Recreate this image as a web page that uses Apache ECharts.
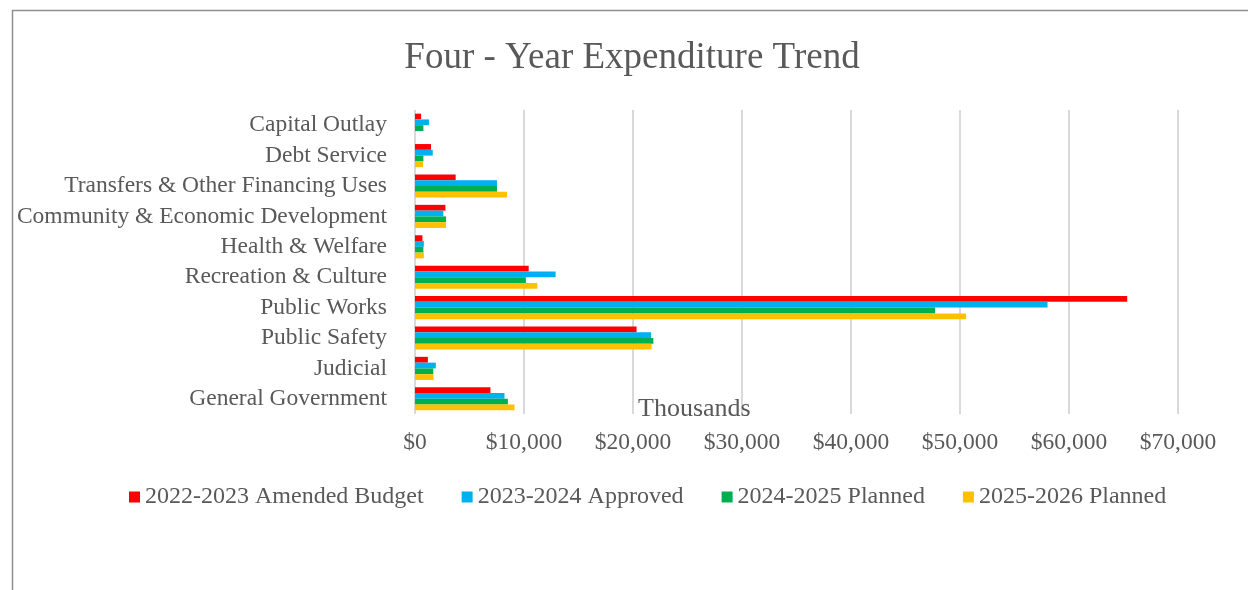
<!DOCTYPE html>
<html>
<head>
<meta charset="utf-8">
<title>Four - Year Expenditure Trend</title>
<script src="https://cdn.jsdelivr.net/npm/echarts@6/dist/echarts.min.js"></script>
<style>
  html, body { margin: 0; padding: 0; background: #ffffff; }
  #chart { width: 1248px; height: 590px; }
</style>
</head>
<body>
<div id="chart"></div>
<script>
// Departments, listed bottom to top along the category axis
const categories = [
  'General Government',
  'Judicial',
  'Public Safety',
  'Public Works',
  'Recreation & Culture',
  'Health & Welfare',
  'Community & Economic Development',
  'Transfers & Other Financing Uses',
  'Debt Service',
  'Capital Outlay'
];

// Expenditures in thousands of dollars, same order as categories
const amended2022 = [6920, 1180, 20330, 65340, 10430, 680, 2790, 3730, 1470, 560];
const approved2023 = [8210, 1910, 21660, 58030, 12900, 810, 2600, 7520, 1630, 1290];
const planned2024 = [8520, 1680, 21870, 47720, 10170, 770, 2850, 7520, 770, 770];
const planned2025 = [9130, 1700, 21710, 50560, 11220, 810, 2850, 8440, 740, 0];

const seriesNames = [
  '2022-2023 Amended Budget',
  '2023-2024 Approved',
  '2024-2025 Planned',
  '2025-2026 Planned'
];
const seriesValues = [amended2022, approved2023, planned2024, planned2025];
const seriesColors = ['#FF0000', '#00B0F0', '#00B050', '#FFC000'];

const FONT = '"Liberation Serif", "Times New Roman", serif';
const TEXT = '#595959';

const chart = echarts.init(document.getElementById('chart'), null, { renderer: 'canvas' });

chart.setOption({
  backgroundColor: '#ffffff',
  animation: false,
  title: {
    text: 'Four - Year Expenditure Trend',
    left: 627,
    textAlign: 'center',
    top: 35,
    textStyle: { fontFamily: FONT, fontSize: 37, fontWeight: 'normal', color: TEXT }
  },
  legend: {
    data: seriesNames,
    left: 124,
    top: 480,
    icon: 'rect',
    itemWidth: 11,
    itemHeight: 11,
    itemGap: 38,
    textStyle: { fontFamily: FONT, fontSize: 24, color: TEXT }
  },
  grid: { left: 415, right: 70, top: 110, bottom: 176 },
  xAxis: {
    type: 'value',
    min: 0,
    max: 70000,
    interval: 10000,
    axisLine: { show: false },
    axisTick: { show: false },
    splitLine: { show: true, lineStyle: { color: '#d9d9d9', width: 2 } },
    axisLabel: {
      margin: 17,
      fontFamily: FONT,
      fontSize: 23.5,
      color: TEXT,
      formatter: v => '$' + v.toLocaleString('en-US')
    }
  },
  yAxis: {
    type: 'category',
    data: categories,
    axisLine: { show: false },
    axisTick: { show: false },
    splitLine: { show: false },
    axisLabel: {
      interval: 0,
      margin: 28,
      padding: [7, 0, 0, 0],
      fontFamily: FONT,
      fontSize: 23.5,
      color: TEXT
    }
  },
  series: seriesNames.map((name, i) => ({
    name: name,
    type: 'bar',
    data: seriesValues[i],
    barGap: '0%',
    barCategoryGap: '24%',
    itemStyle: { color: seriesColors[i] }
  })),
  graphic: [
    // outer frame (top and left edges)
    {
      type: 'polyline',
      shape: { points: [[12.5, 590], [12.5, 10.5], [1248, 10.5]] },
      style: { fill: null, stroke: '#8f8f8f', lineWidth: 1.5 },
      z: 10
    },
    // display-units label of the value axis
    {
      type: 'text',
      left: 638,
      top: 396,
      style: { text: 'Thousands', fontFamily: FONT, fontSize: 26, fill: TEXT },
      z: 10
    }
  ]
});
</script>
</body>
</html>
